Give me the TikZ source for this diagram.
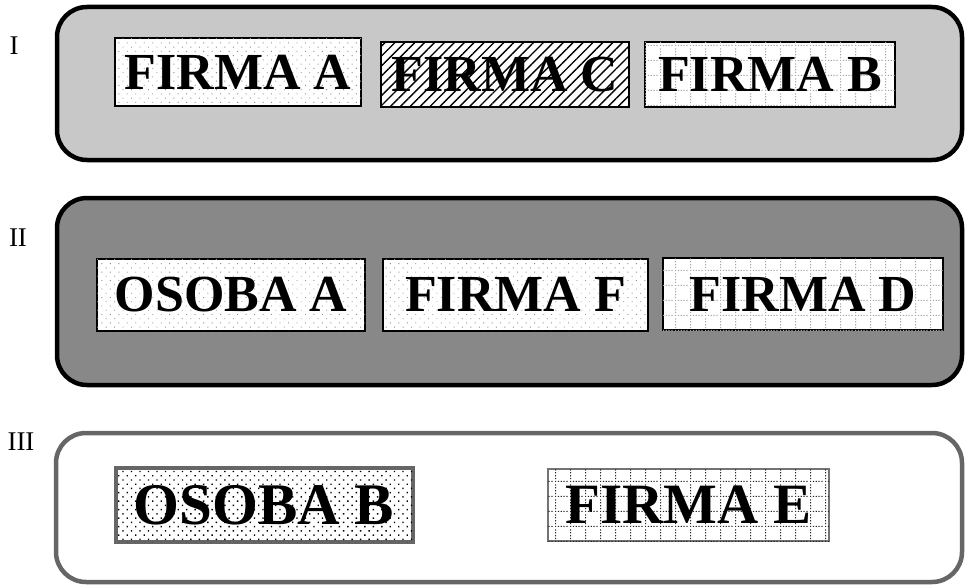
\documentclass[tikz,border=0pt]{standalone}
\usepackage{fontspec}
\setmainfont{Liberation Serif}
\usetikzlibrary{patterns.meta}
\definecolor{panelone}{HTML}{C8C8C8}
\definecolor{paneltwo}{HTML}{888888}
\definecolor{framegray}{HTML}{666666}
\tikzdeclarepattern{
  name=dotgrid,
  type=uncolored,
  bounding box={(0pt,0pt) and (15pt,15pt)},
  tile size={(15pt,15pt)},
  code={
    \foreach \i in {0,3,6,9,12} {\fill (\i pt,0pt) rectangle ++(1.3pt,1.3pt);}
    \foreach \j in {3,6,9,12} {\fill (0pt,\j pt) rectangle ++(1.3pt,1.3pt);}
  }
}
\newcommand{\lowtxt}[1]{\raisebox{-3pt}{#1}}
\tikzset{
  panel/.style={rounded corners=30pt, line width=4.5pt},
  numeral/.style={font=\fontsize{27}{27}\selectfont, inner sep=0pt},
  firm/.style={draw=black, line width=2pt, inner sep=0pt, fill=white,
    font=\fontsize{52}{52}\selectfont\bfseries},
  sparsedots/.style={postaction={pattern={Dots[distance=6pt, radius=0.65pt, angle=45]}, pattern color=black!45}},
  gridA/.style={postaction={pattern=dotgrid, pattern color=black!35}},
  hatchC/.style={postaction={pattern={Lines[angle=45, distance=7pt, line width=1.4pt]}, pattern color=black}},
  densedots/.style={postaction={pattern={Dots[distance=6pt, radius=0.95pt, angle=45]}, pattern color=black}},
  gridE/.style={postaction={pattern=dotgrid, pattern color=black!85}},
}
\begin{document}
\begin{tikzpicture}[x=1pt, y=-1pt]
\useasboundingbox (0,0) rectangle (965,586);
% panels
\draw[panel, fill=panelone, draw=black] (57,7) rectangle (962,160);
\draw[panel, fill=paneltwo, draw=black] (57,198) rectangle (962,385);
\draw[panel, fill=white, draw=framegray] (56,433) rectangle (962,582);
% numerals
\node[numeral] (n1) at (14,46) {I};
\node[numeral] (n2) at (18,238) {II};
\node[numeral] (n3) at (21,442) {III};
% row I
\node[firm, sparsedots, minimum width=246pt, minimum height=67pt] (fa) at (238,72) {\lowtxt{FIRMA A}};
\node[firm, hatchC, minimum width=248pt, minimum height=65pt] (fc) at (505,74.5) {\lowtxt{FIRMA C}};
\node[firm, gridA, minimum width=250pt, minimum height=65pt] (fb) at (770,74.5) {\lowtxt{FIRMA B}};
% row II
\node[firm, sparsedots, minimum width=268pt, minimum height=72pt] (oa) at (231,294.5) {\lowtxt{OSOBA A}};
\node[firm, sparsedots, minimum width=265pt, minimum height=72pt] (ff) at (515.5,294.5) {\lowtxt{FIRMA F}};
\node[firm, gridA, minimum width=280pt, minimum height=72pt] (fd) at (803,294) {\lowtxt{FIRMA D}};
% row III
\node[firm, densedots, draw=framegray, line width=4pt, minimum width=297pt, minimum height=74pt,
  font=\fontsize{59}{59}\selectfont\bfseries] (ob) at (264,505) {\lowtxt{OSOBA B}};
\node[firm, gridE, draw=black!55, line width=1.5pt, minimum width=281pt, minimum height=72pt,
  font=\fontsize{57}{57}\selectfont\bfseries] (fe) at (688.5,505) {\lowtxt{FIRMA E}};
\end{tikzpicture}
\end{document}
